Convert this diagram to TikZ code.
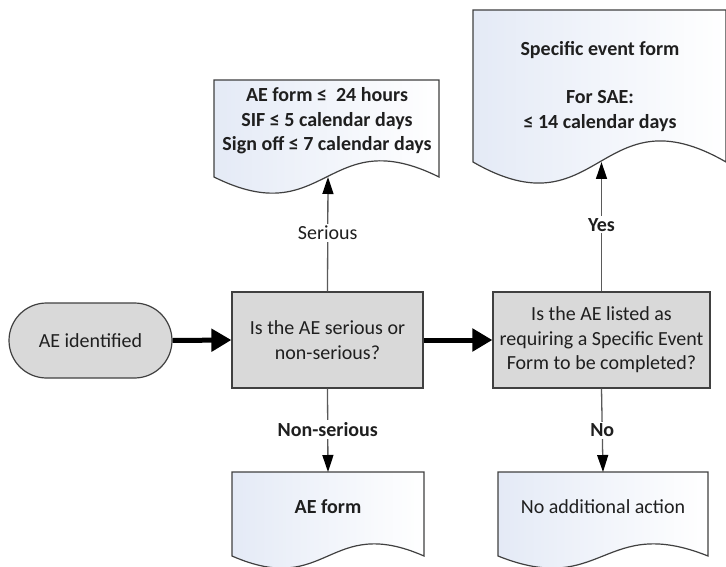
\documentclass[tikz,border=0pt]{standalone}
\usepackage{fontspec}
\setmainfont{Carlito}
\usetikzlibrary{arrows.meta,shapes.misc}
\definecolor{boxfill}{HTML}{D9D9D9}
\definecolor{edgec}{HTML}{404040}
\definecolor{connc}{HTML}{5A5A5A}
\definecolor{txtc}{HTML}{1F1F1F}
\definecolor{docblue}{HTML}{E4EAF6}
\begin{document}
\begin{tikzpicture}[x=1pt,y=-1pt,
  font=\fontsize{20}{24.5}\selectfont, text=txtc,
  qbox/.style={draw=edgec, line width=1.2pt, fill=boxfill, inner sep=0pt, align=center, minimum height=96pt},
  termbox/.style={rounded rectangle, draw=edgec, line width=1.2pt, fill=boxfill, inner sep=0pt, minimum width=163pt, minimum height=75pt},
  doctext/.style={align=center, font=\fontsize{20}{24.5}\selectfont\bfseries},
  docplain/.style={align=center},
  docshape/.style={draw=edgec, line width=1.2pt, left color=docblue, right color=white},
  thinarrow/.style={draw=connc, line width=1.3pt, -{Triangle[length=17pt,width=11pt,color=black]}},
  thickarrow/.style={draw=black, line width=5pt, -{Triangle[length=20pt,width=22pt]}},
  lab/.style={fill=white, inner sep=2pt},
  boldlab/.style={lab, font=\fontsize{20}{24.5}\selectfont\bfseries}
]
\useasboundingbox (0,0) rectangle (726,567);

% documents
\path[docshape] (214,80) -- (439,80) -- (439,177) .. controls (326.5,121) and (326.5,233) .. (214,177) -- cycle;
\path[docshape] (473,10) -- (726,10) -- (726,162) .. controls (599.5,89) and (599.5,235) .. (473,162) -- cycle;
\path[docshape] (232,472) -- (424,472) -- (424,556) .. controls (328,514) and (328,598) .. (232,556) -- cycle;
\path[docshape] (498,472) -- (708,472) -- (708,556) .. controls (603,514) and (603,598) .. (498,556) -- cycle;

\node[doctext] (sdoc) at (327,121) {AE form ≤\ \ 24 hours\\SIF ≤ 5 calendar days\\Sign off ≤ 7 calendar days};
\node[doctext] (sef) at (600,86.5) {Specific event form\\[24pt]For SAE:\\≤ 14 calendar days};
\node[doctext] (aef) at (328,507) {AE form};
\node[docplain] (noact) at (603,507) {No additional action};

\coordinate (sdocin) at (328,177);
\coordinate (sefin) at (601.5,162);
\coordinate (aefin) at (328,472);
\coordinate (noactin) at (603,472);

% process shapes
\node[termbox] (start) at (90.5,340.5) {AE identified};
\node[qbox, minimum width=191pt] (q1) at (327.5,340) {Is the AE serious or\\non-serious?};
\node[qbox, minimum width=217pt] (q2) at (601.5,340) {Is the AE listed as\\requiring a Specific Event\\Form to be completed?};

% connectors
\draw[thickarrow] (start.east) -- (q1.west);
\draw[thickarrow] (q1.east) -- (q2.west);
\draw[thinarrow] (q1.north) -- (sdocin) node[lab, pos=0.51] {Serious};
\draw[thinarrow] (q2.north) -- (sefin) node[boldlab, pos=0.515] {Yes};
\draw[thinarrow] (q1.south) -- (aefin) node[boldlab, pos=0.49] {Non-serious};
\draw[thinarrow] (q2.south) -- (noactin) node[boldlab, pos=0.5] {No};
\end{tikzpicture}
\end{document}
